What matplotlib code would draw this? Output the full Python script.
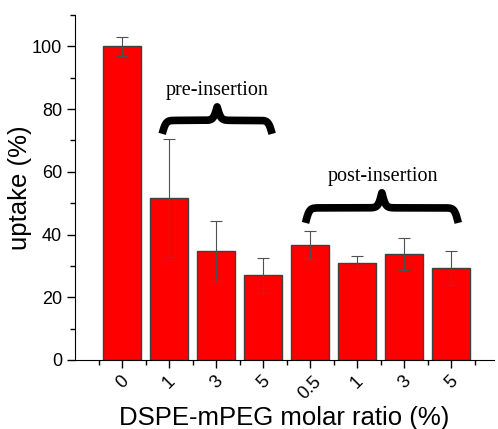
import numpy as np
import matplotlib.pyplot as plt
from matplotlib.ticker import MultipleLocator

labels = ['0', '1', '3', '5', '0.5', '1', '3', '5']
uptake = [100, 51.6, 34.7, 27.0, 36.6, 31.0, 33.8, 29.3]
errors = [3.0, 18.8, 9.5, 5.5, 4.5, 2.0, 5.0, 5.5]

fig = plt.figure(figsize=(4.98, 4.29), dpi=100)
ax = fig.add_axes([0.151, 0.161, 0.84, 0.804])

x = np.arange(len(labels))
ax.bar(x, uptake, width=0.8, color='#ff0000', edgecolor='#404040', linewidth=1,
       yerr=errors, error_kw=dict(ecolor='#505050', elinewidth=0.8, capsize=4, capthick=0.8))

ax.set_xlim(-1, 7.9)
ax.set_ylim(0, 110)
ax.set_xticks(x)
ax.set_xticklabels(labels, rotation=45, family='Liberation Sans', fontsize=13)
ax.xaxis.set_minor_locator(MultipleLocator(1, offset=0.5))
ax.yaxis.set_major_locator(MultipleLocator(20))
ax.yaxis.set_minor_locator(MultipleLocator(10))
for lab in ax.get_yticklabels():
    lab.set_family('Liberation Sans')
    lab.set_fontsize(13)
ax.tick_params(which='major', length=6, width=1, direction='out')
ax.tick_params(which='minor', length=3.5, width=1, direction='out')
ax.spines['top'].set_visible(False)
ax.spines['right'].set_visible(False)
ax.set_xlabel('DSPE-mPEG molar ratio (%)', family='Liberation Sans', fontsize=18.5, labelpad=2)
ax.set_ylabel('uptake (%)', family='Liberation Sans', fontsize=18.5, labelpad=0)


def brace(ax, x0, x1, y, h, beta=25, lw=5.5):
    # horizontal curly brace: ends at y-h, tip at y+h
    xs = np.linspace(0, (x1 - x0) / 2, 200)
    yh = 1 / (1 + np.exp(-beta * (xs - xs[0]))) + 1 / (1 + np.exp(-beta * (xs - xs[-1])))
    yy = np.concatenate([yh, yh[-2::-1]])
    xx = np.linspace(x0, x1, len(yy))
    ax.plot(xx, y + (yy - 1) * 2 * h, color='black', lw=lw,
            solid_capstyle='butt', solid_joinstyle='round', clip_on=False)


brace(ax, 0.85, 3.19, 76.4, 4.3)
brace(ax, 3.9, 7.15, 48.5, 4.8)
ax.text(2.02, 86.0, 'pre-insertion', ha='center', va='center', family='Liberation Serif', fontsize=14.5)
ax.text(5.55, 58.5, 'post-insertion', ha='center', va='center', family='Liberation Serif', fontsize=14.5)

fig.savefig('out.png', dpi=100)
